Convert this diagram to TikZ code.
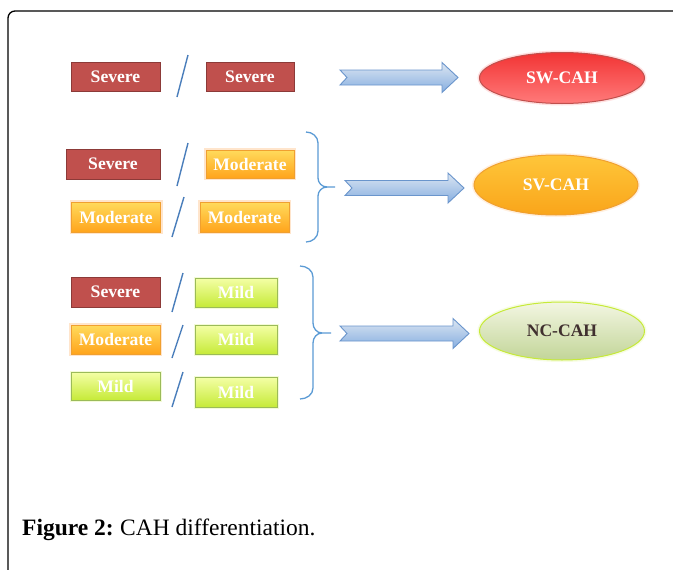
\documentclass[tikz,border=0pt]{standalone}
\usepackage{fontspec}
\setmainfont{Liberation Serif}
\usetikzlibrary{shapes.geometric}
\definecolor{sevfill}{HTML}{C0504D}
\definecolor{sevline}{HTML}{8C3A38}
\definecolor{modtop}{HTML}{FFDB5C}
\definecolor{modbot}{HTML}{FFA41C}
\definecolor{modline}{HTML}{F0A030}
\definecolor{mildtop}{HTML}{F4FFA6}
\definecolor{mildbot}{HTML}{C6EA38}
\definecolor{mildline}{HTML}{9BBB59}
\definecolor{slash}{HTML}{4A7EBB}
\definecolor{arrtop}{HTML}{DCE6F2}
\definecolor{arrbot}{HTML}{86AEE0}
\definecolor{arrline}{HTML}{6A95CC}
\definecolor{bracec}{HTML}{5B9BD5}
\definecolor{swtop}{HTML}{F23434}
\definecolor{swbot}{HTML}{FF7A7A}
\definecolor{svtop}{HTML}{FFC63A}
\definecolor{svbot}{HTML}{F9A51A}
\definecolor{nctop}{HTML}{F3F6E2}
\definecolor{ncbot}{HTML}{C2D598}
\definecolor{nctext}{HTML}{40302F}
\tikzset{
  lbl/.style={font=\fontsize{17.6}{20}\selectfont\bfseries, text=white, inner sep=0pt},
  sevbox/.style={lbl, rectangle, fill=sevfill, draw=sevline, line width=0.8pt},
  modbox/.style={lbl, rectangle, top color=modtop, bottom color=modbot, draw=modline, line width=0.8pt,
     preaction={draw=orange!20, line width=4pt}},
  mildbox/.style={lbl, rectangle, top color=mildtop, bottom color=mildbot, draw=mildline, line width=0.8pt,
     preaction={draw=mildbot!20, line width=3pt}},
  slashline/.style={draw=slash, line width=1.4pt},
  blockarr/.style={top color=arrtop, bottom color=arrbot, draw=arrline, line width=0.9pt},
  bracepath/.style={draw=bracec, line width=1.3pt, line join=round},
  oval/.style={ellipse, lbl, line width=1pt},
}
\newcommand\notcharrow[3]{%
  \shadedraw[blockarr] (#1,#3-7.5) -- (#2-16,#3-7.5) -- (#2-16,#3-15) -- (#2,#3)
    -- (#2-16,#3+15) -- (#2-16,#3+7.5) -- (#1,#3+7.5) -- (#1+7,#3) -- cycle;}
\begin{document}
\begin{tikzpicture}[x=1pt,y=-1pt]
\useasboundingbox (0,0) rectangle (673,570);
\clip (0,0) rectangle (673,570);
\fill[white] (0,0) rectangle (673,570);
% frame
\draw[line width=1.3pt, rounded corners=7pt] (8,580) -- (8,11) -- (690,11);

% row 1
\node[sevbox, minimum width=89pt, minimum height=29pt] (a1) at (115.5,76.5) {Severe};
\node[sevbox, minimum width=88pt, minimum height=29pt] (a2) at (250,76.5) {Severe};
\draw[slashline] (188,55) -- (177,97);
% row 2
\node[sevbox, minimum width=94pt, minimum height=30pt] (b1) at (113,164) {Severe};
\node[modbox, minimum width=88pt, minimum height=28pt] (b2) at (250,164) {Moderate};
\draw[slashline] (188,143) -- (177,186);
% row 3
\node[modbox, minimum width=89pt, minimum height=30pt] (c1) at (116,217) {Moderate};
\node[modbox, minimum width=89pt, minimum height=30pt] (c2) at (244.5,217) {Moderate};
\draw[slashline] (184,197) -- (172,237);
% row 4
\node[sevbox, minimum width=89pt, minimum height=30pt] (d1) at (115.5,292) {Severe};
\node[mildbox, minimum width=82pt, minimum height=29pt] (d2) at (236,292.5) {Mild};
\draw[slashline] (183,273) -- (172,312);
% row 5
\node[modbox, minimum width=89pt, minimum height=29pt] (e1) at (115.5,339.5) {Moderate};
\node[mildbox, minimum width=82pt, minimum height=29pt] (e2) at (236,339.5) {Mild};
\draw[slashline] (183,325) -- (172,358);
% row 6
\node[mildbox, minimum width=89pt, minimum height=28pt] (f1) at (115.5,386) {Mild};
\node[mildbox, minimum width=82pt, minimum height=30pt] (f2) at (236,392) {Mild};
\draw[slashline] (183,372) -- (172,407);

% braces
\draw[bracepath] (306,132) to[out=0,in=90] (318,143) -- (318,178) to[out=-90,in=180] (327,187) -- (335,187);
\draw[bracepath] (327,187) to[out=180,in=90] (318,196) -- (318,231) to[out=-90,in=0] (306,242);
\draw[bracepath] (300,266) to[out=0,in=90] (313,277) -- (313,323) to[out=-90,in=180] (322,333) -- (331,333);
\draw[bracepath] (322,333) to[out=180,in=90] (313,343) -- (313,388) to[out=-90,in=0] (300,399);

% block arrows
\notcharrow{340}{458}{77.5}
\notcharrow{345}{464}{188}
\notcharrow{340}{469}{333.5}

% outcome ellipses
\node[oval, top color=swtop, bottom color=swbot, draw=sevfill, minimum width=165pt, minimum height=51pt,
  preaction={draw=red!12, line width=4pt}] (sw) at (562,78) {SW-CAH};
\node[oval, top color=svtop, bottom color=svbot, draw=modline, minimum width=164pt, minimum height=60pt,
  preaction={draw=orange!12, line width=4pt}] (sv) at (556,185) {SV-CAH};
\node[oval, top color=nctop, bottom color=ncbot, draw=mildbot, text=nctext, minimum width=165pt, minimum height=58pt,
  preaction={draw=mildbot!15, line width=4pt}] (nc) at (562,331) {NC-CAH};

% caption
\node[anchor=base west, inner sep=0pt, font=\fontsize{23.5}{27}\selectfont] (cap) at (22,535) {\textbf{Figure 2:}\hspace{-1.5pt} CAH differentiation.};
\end{tikzpicture}
\end{document}
